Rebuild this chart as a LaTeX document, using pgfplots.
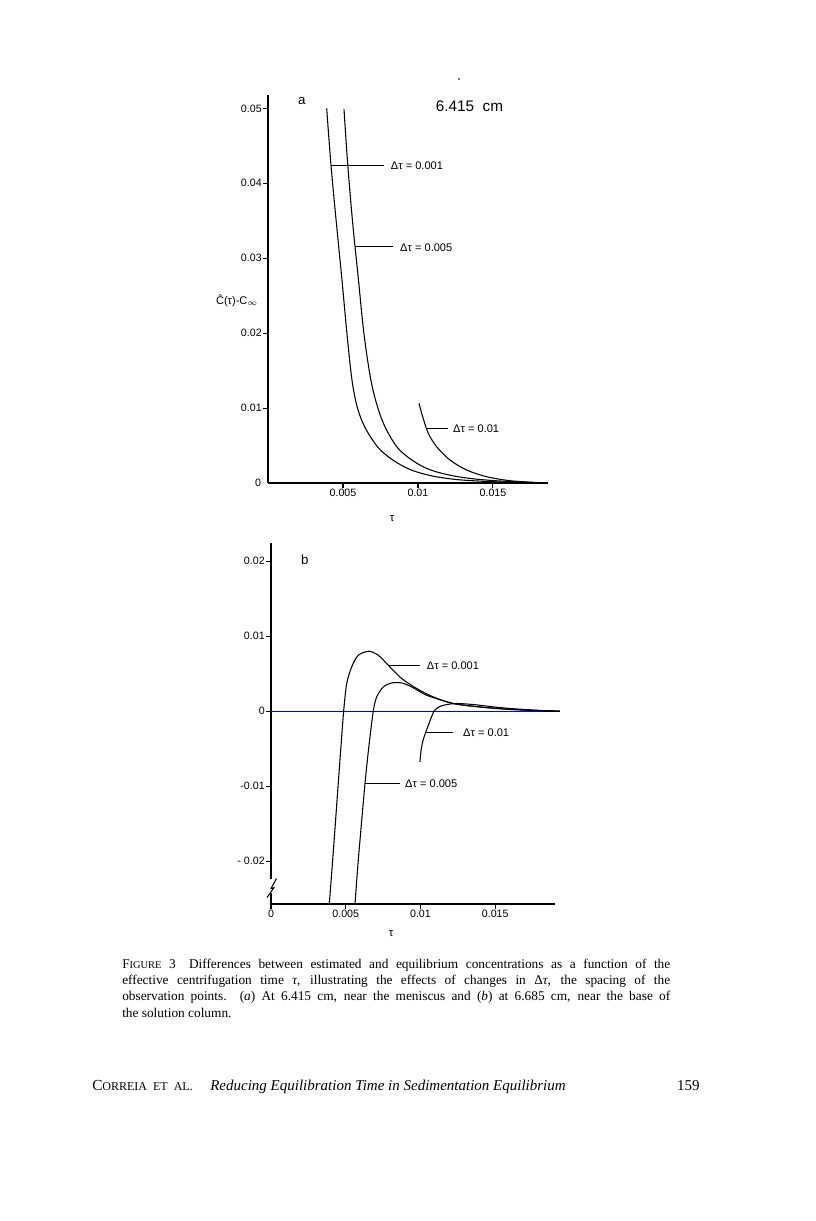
\documentclass[border=0pt]{standalone}
\usepackage{fontspec}
\setmainfont{Liberation Serif}
\newfontfamily\lab{Liberation Sans}
\usepackage{pgfplots}
\pgfplotsset{compat=1.18}
\pgfplotsset{
  myax/.style={
    scale only axis, anchor=south west,
    axis lines=left, axis line style={-, line width=0.8pt},
    tick align=outside, major tick length=3.5pt,
    every tick/.style={black, line width=0.8pt},
    enlargelimits=false, clip=false, scaled ticks=false,
    tick label style={font=\lab\fontsize{8}{9}\selectfont},
    y tick label style={inner sep=1pt},
    x tick label style={inner sep=1pt},
    /pgf/number format/assume math mode=true,
    every axis plot/.append style={black, line width=0.8pt, no markers},
  },
}
\tikzset{lbl/.style={anchor=west, inner sep=0pt, font=\lab\fontsize{8.3}{9}\selectfont}}
\begin{document}
\begin{tikzpicture}
\begin{scope}[x=0.75pt,y=-0.75pt]
\path[use as bounding box] (0,0) rectangle (816,1221);
\end{scope}

% ---------------- panel a ----------------
\begin{axis}[myax, at={(201pt,-362.25pt)}, width=210pt, height=291.1pt,
  xmin=0, xmax=0.01867, ymin=0, ymax=0.0518,
  xtick={0.005,0.01,0.015}, xticklabels={0.005,0.01,0.015},
  ytick={0.01,0.02,0.03,0.04,0.05}, yticklabels={0.01,0.02,0.03,0.04,0.05},
  extra y ticks={0}, extra y tick labels={0},
  extra y tick style={major tick length=0pt, yticklabel style={xshift=-4pt}},
]
% Delta tau = 0.001
\addplot[smooth, tension=0.55] coordinates {
(0.003913,0.05000) (0.004200,0.04243) (0.004553,0.03483) (0.004933,0.02709)
(0.005267,0.01988) (0.005600,0.01374) (0.005967,0.01001) (0.006487,0.00734)
(0.007300,0.00484) (0.008133,0.00334) (0.009067,0.00218) (0.009933,0.00147)
(0.011200,0.00084) (0.012933,0.00040) (0.015600,0.00013) (0.018580,0.0)};
% Delta tau = 0.005
\addplot[smooth, tension=0.55] coordinates {
(0.005067,0.04987) (0.005320,0.04243) (0.005640,0.03483) (0.006033,0.02709)
(0.006400,0.01988) (0.006860,0.01374) (0.007333,0.00997) (0.007840,0.00734)
(0.008587,0.00484) (0.009400,0.00334) (0.010333,0.00218) (0.011267,0.00147)
(0.012667,0.00084) (0.014133,0.00047) (0.016133,0.00019) (0.018580,0.0)};
% Delta tau = 0.01
\addplot[smooth, tension=0.5] coordinates {
(0.010067,0.01064) (0.010313,0.00885) (0.010687,0.00663) (0.011247,0.00484)
(0.012133,0.00307) (0.013247,0.00173) (0.014580,0.00084) (0.016133,0.00031)
(0.018133,0.00004) (0.018580,0.0)};
\draw[line width=0.8pt] (axis cs:0.0042,0.04243) -- (axis cs:0.007733,0.04243);
\node[lbl] at (axis cs:0.00818,0.0423) {Δτ = 0.001};
\draw[line width=0.8pt] (axis cs:0.0058,0.03153) -- (axis cs:0.008313,0.03153);
\node[lbl] at (axis cs:0.0088,0.03136) {Δτ = 0.005};
\draw[line width=0.8pt] (axis cs:0.010573,0.0073) -- (axis cs:0.01198,0.0073);
\node[lbl] at (axis cs:0.012333,0.0072) {Δτ = 0.01};
\node[font=\lab\fontsize{10}{12}\selectfont] at (axis cs:0.00225,0.0510) {a};
\node[font=\lab\fontsize{11.5}{13}\selectfont] at (axis cs:0.01343,0.0503) {6.415\ \ cm};
\node[font=\lab\fontsize{8.3}{9}\selectfont] at (axis cs:-0.00207,0.0243) {\^{C}(τ)-C$_{\infty}$};
\node[font=\lab\fontsize{8.5}{9}\selectfont] at (axis cs:0.00827,-0.0048) {τ};
\end{axis}

% ---------------- panel b ----------------
\begin{axis}[myax, at={(203.25pt,-678pt)}, width=213pt, height=270.6pt,
  xmin=0, xmax=0.019, ymin=-0.0257, ymax=0.0224,
  xtick={0,0.005,0.01,0.015}, xticklabels={0,0.005,0.01,0.015},
  ytick={-0.02,-0.01,0,0.01,0.02}, yticklabels={- 0.02,-0.01,0,0.01,0.02},
]
\addplot coordinates {(0,0) (0.0193,0)};
% Delta tau = 0.001
\addplot[smooth, tension=0.45] coordinates {
(0.003900,-0.02573) (0.004125,-0.01987) (0.004435,-0.01141) (0.004662,-0.00520)
(0.004860,0) (0.005064,0.00369) (0.005398,0.00591) (0.005839,0.00747)
(0.006555,0.00800) (0.007177,0.00747) (0.007846,0.00613) (0.008742,0.00436)
(0.009746,0.00303) (0.010856,0.00191) (0.012194,0.00103) (0.013980,0.00057)
(0.016207,0.00023) (0.019331,0)};
% Delta tau = 0.005
\addplot[smooth, tension=0.45] coordinates {
(0.005619,-0.02573) (0.005839,-0.01987) (0.006288,-0.00964) (0.006545,-0.00476)
(0.006840,0) (0.007070,0.00191) (0.007512,0.00324) (0.008074,0.00377)
(0.008742,0.00377) (0.009411,0.00324) (0.010415,0.00213) (0.012194,0.00103)
(0.013980,0.00056) (0.016207,0.00021) (0.019331,0)};
% Delta tau = 0.01
\addplot[smooth, tension=0.45] coordinates {
(0.009967,-0.00676) (0.010033,-0.00533) (0.010140,-0.00413) (0.010301,-0.00307)
(0.010502,-0.00200) (0.010702,-0.00093) (0.010903,0) (0.011104,0.00040)
(0.011338,0.00067) (0.011753,0.00089) (0.012421,0.00103) (0.013532,0.00089)
(0.015538,0.00044) (0.017773,0.00013) (0.019331,0)};
\draw[line width=0.8pt] (axis cs:0.007846,0.00613) -- (axis cs:0.009967,0.00613);
\node[lbl] at (axis cs:0.010415,0.00613) {Δτ = 0.001};
\draw[line width=0.8pt] (axis cs:0.010334,-0.00289) -- (axis cs:0.012174,-0.00289);
\node[lbl] at (axis cs:0.012843,-0.0029) {Δτ = 0.01};
\draw[line width=0.8pt] (axis cs:0.006288,-0.00964) -- (axis cs:0.008629,-0.00964);
\node[lbl] at (axis cs:0.008963,-0.00964) {Δτ = 0.005};
\node[font=\lab\fontsize{10}{12}\selectfont] at (axis cs:0.00227,0.0202) {b};
\node[font=\lab\fontsize{8.5}{9}\selectfont] at (axis cs:0.00803,-0.0297) {τ};
\end{axis}

\begin{scope}[x=0.75pt,y=-0.75pt]
% axis break
\fill[white] (268.5,879) rectangle (274,893);
\draw[line width=0.8pt] (276.5,878.5) -- (271,888.5) -- (273.8,887.8) -- (267,897.5);
% speck
\fill (459,79) circle (0.9);
% caption
\node[anchor=base west, inner sep=0pt] at (122,968) {\vtop{\hsize=411pt
  \fontsize{10}{12.25}\selectfont
  \hbox to\hsize{F{\fontsize{7.8}{9}\selectfont IGURE} 3\quad Differences between estimated and equilibrium concentrations as a function of the}
  \hbox to\hsize{effective centrifugation time {\itshape τ}, illustrating the effects of changes in Δ{\itshape τ}, the spacing of the}
  \hbox to\hsize{observation points. ({\itshape a}) At 6.415 cm, near the meniscus and ({\itshape b}) at 6.685 cm, near the base of}
  \hbox{the solution column.}}};
% running footer
\node[anchor=base west, inner sep=0pt] at (92,1090) {\fontsize{11.5}{13}\selectfont C{\fontsize{9}{10}\selectfont ORREIA\ \ ET\ \ AL.}};
\node[anchor=base west, inner sep=0pt] at (210,1090) {\fontsize{11.25}{13}\selectfont\itshape Reducing Equilibration Time in Sedimentation Equilibrium};
\node[anchor=base east, inner sep=0pt] at (700,1090) {\fontsize{11.25}{13}\selectfont 159};
\end{scope}
\end{tikzpicture}
\end{document}
